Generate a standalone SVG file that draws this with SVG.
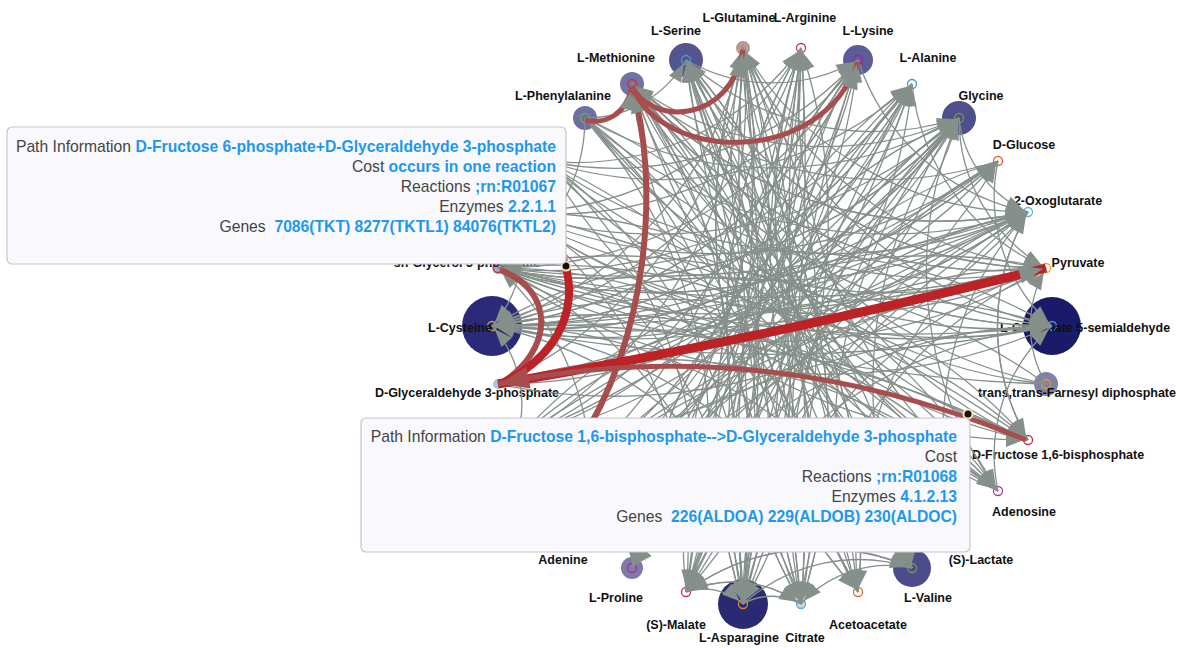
<svg xmlns="http://www.w3.org/2000/svg" width="1184" height="648" viewBox="0 0 1184 648">
<style>
.e{fill:none;stroke:#86908b;stroke-width:1.3;marker-end:url(#ag)}
.lb{font-family:"Liberation Sans",Arial,sans-serif;font-weight:bold;font-size:12.5px;fill:#111;text-anchor:middle}
.rg{fill:none;stroke-width:1.3}
.rb{fill:none;stroke:#a84d4d}
.rr{fill:none;stroke:#bd2227}
.tt{fill:#f9f9fd;stroke:#c4c4cc;stroke-width:1.2}
.tx{font-family:"Liberation Sans",Arial,sans-serif;font-size:15.7px;fill:#444;text-anchor:end}
.v{font-weight:bold;fill:#1e98ec}
.dot{fill:#111;stroke:#f3e4bd;stroke-width:2}
</style>
<defs>
<marker id="ag" markerUnits="userSpaceOnUse" markerWidth="18" markerHeight="14" refX="22" refY="7" orient="auto" overflow="visible"><path d="M0,0L18,7L0,14Z" fill="#86908b"/></marker>
<marker id="agb" markerUnits="userSpaceOnUse" markerWidth="24" markerHeight="18" refX="27" refY="9" orient="auto" overflow="visible"><path d="M0,0L24,9L0,18Z" fill="#86908b"/></marker>
<marker id="ar" markerUnits="userSpaceOnUse" markerWidth="30" markerHeight="22" refX="31" refY="11" orient="auto" overflow="visible"><path d="M0,0L30,11L0,22Z" fill="#a84d4d"/></marker>
</defs>
<rect width="1184" height="648" fill="#fff"/>

<g id="nodes">
<g id="n-arginine"><circle cx="801" cy="48" r="4.5" class="rg" stroke="#d0304a"/><text class="lb" x="805" y="22">L-Arginine</text></g>
<g id="n-lysine"><circle cx="858" cy="60" r="15" fill="#5c5c98"/><circle cx="858" cy="60" r="4.5" class="rg" stroke="#a020a0"/><text class="lb" x="868" y="35">L-Lysine</text></g>
<g id="n-alanine"><circle cx="912" cy="84" r="4.5" class="rg" stroke="#3a9ad9"/><text class="lb" x="928" y="62">L-Alanine</text></g>
<g id="n-glycine"><circle cx="959" cy="118" r="17" fill="#4f4f8c"/><circle cx="959" cy="118" r="4.5" class="rg" stroke="#6a9a4a"/><text class="lb" x="981" y="100">Glycine</text></g>
<g id="n-glucose"><circle cx="998" cy="161" r="4.5" class="rg" stroke="#e06030"/><text class="lb" x="1024" y="149">D-Glucose</text></g>
<g id="n-oxoglutarate"><circle cx="1028" cy="212" r="4.5" class="rg" stroke="#60b0e0"/><text class="lb" x="1058" y="205">2-Oxoglutarate</text></g>
<g id="n-pyruvate"><circle cx="1046" cy="268" r="4.5" class="rg" stroke="#f0a030"/><text class="lb" x="1078" y="267">Pyruvate</text></g>
<g id="n-glu5sa"><circle cx="1052" cy="326" r="29" fill="#1a1a6a"/><circle cx="1052" cy="326" r="4.5" class="rg" stroke="#40a0e0"/><text class="lb" x="1085" y="332">L-Glutamate 5-semialdehyde</text></g>
<g id="n-farnesyl"><circle cx="1046" cy="384" r="12" fill="#8080aa"/><circle cx="1046" cy="384" r="4.5" class="rg" stroke="#e0a020"/><text class="lb" x="1077" y="397">trans,trans-Farnesyl diphosphate</text></g>
<g id="n-fbp"><circle cx="1028" cy="440" r="4.5" class="rg" stroke="#c83040"/><text class="lb" x="1058" y="459">D-Fructose 1,6-bisphosphate</text></g>
<g id="n-adenosine"><circle cx="998" cy="491" r="4.5" class="rg" stroke="#a040a0"/><text class="lb" x="1024" y="516">Adenosine</text></g>
<g id="n-lactate"><circle cx="959" cy="534" r="4.5" class="rg" stroke="#a040a0"/><text class="lb" x="981" y="564">(S)-Lactate</text></g>
<g id="n-valine"><circle cx="912" cy="568" r="19" fill="#4c4c8c"/><circle cx="912" cy="568" r="4.5" class="rg" stroke="#70a040"/><text class="lb" x="928" y="602">L-Valine</text></g>
<g id="n-acetoacetate"><circle cx="858" cy="592" r="4.5" class="rg" stroke="#e06a30"/><text class="lb" x="868" y="629">Acetoacetate</text></g>
<g id="n-citrate"><circle cx="801" cy="604" r="4.5" fill="#d4d4d8" stroke="#50b0e0" stroke-width="1.3"/><text class="lb" x="805" y="642">Citrate</text></g>
<g id="n-asparagine"><circle cx="743" cy="604" r="25" fill="#2a2a72"/><circle cx="743" cy="604" r="4.5" class="rg" stroke="#e08a30"/><text class="lb" x="739" y="642">L-Asparagine</text></g>
<g id="n-malate"><circle cx="686" cy="592" r="4.5" class="rg" stroke="#d03050"/><text class="lb" x="676" y="629">(S)-Malate</text></g>
<g id="n-proline"><circle cx="632" cy="568" r="11" fill="#7f7aaa"/><circle cx="632" cy="568" r="4.5" class="rg" stroke="#a030a0"/><text class="lb" x="616" y="602">L-Proline</text></g>
<g id="n-adenine"><circle cx="585" cy="534" r="4.5" class="rg" stroke="#a030a0"/><text class="lb" x="563" y="564">Adenine</text></g>
<g id="n-gap"><circle cx="498" cy="384" r="5" fill="#9ec8e8"/><text class="lb" x="467" y="397">D-Glyceraldehyde 3-phosphate</text></g>
<g id="n-cysteine"><circle cx="492" cy="326" r="30" fill="#2a2a78"/><circle cx="492" cy="326" r="4.5" class="rg" stroke="#e0a030"/><text class="lb" x="460" y="332">L-Cysteine</text></g>
<g id="n-g3p"><circle cx="498" cy="268" r="6" fill="#b8a8c8"/><circle cx="498" cy="268" r="4.5" class="rg" stroke="#c03060"/><text class="lb" x="467" y="267">sn-Glycerol 3-phosphate</text></g>
<g id="n-phenylalanine"><circle cx="585" cy="118" r="12" fill="#6e6ea4"/><circle cx="585" cy="118" r="4.5" class="rg" stroke="#70b040"/><text class="lb" x="563" y="100">L-Phenylalanine</text></g>
<g id="n-methionine"><circle cx="632" cy="84" r="12" fill="#7272a6"/><circle cx="632" cy="84" r="4.5" class="rg" stroke="#d03030"/><text class="lb" x="616" y="62">L-Methionine</text></g>
<g id="n-serine"><circle cx="686" cy="60" r="17" fill="#545490"/><circle cx="686" cy="60" r="4.5" class="rg" stroke="#40a0e0"/><text class="lb" x="676" y="35">L-Serine</text></g>
<g id="n-glutamine"><circle cx="743" cy="48" r="7" fill="#a098b0"/><circle cx="743" cy="48" r="4.5" class="rg" stroke="#f0a030"/><text class="lb" x="739" y="22">L-Glutamine</text></g>
</g>

<g id="edges">
<path class="e" d="M858 60A453 453 0 0 1 492 326"/>
<path class="e" d="M912 84A485 485 0 0 1 492 326"/>
<path class="e" d="M959 118A512 512 0 0 1 492 326"/>
<path class="e" d="M998 161A900 900 0 0 1 492 326"/>
<path class="e" d="M1028 212A1400 1400 0 0 1 492 326"/>
<path class="e" d="M1046 268A2500 2500 0 0 1 492 326"/>
<path class="e" d="M1052 326A1400 1400 0 0 1 492 326"/>
<path class="e" d="M1046 384A557 557 0 0 0 492 326"/>
<path class="e" d="M1028 440A1100 1100 0 0 0 492 326"/>
<path class="e" d="M998 491A533 533 0 0 0 492 326"/>
<path class="e" d="M912 568A485 485 0 0 0 492 326"/>
<path class="e" d="M858 592A453 453 0 0 0 492 326"/>
<path class="e" d="M801 604A416 416 0 0 0 492 326"/>
<path class="e" d="M959 534A329 329 0 0 1 1028 212"/>
<path class="e" d="M858 592A416 416 0 0 1 1028 212"/>
<path class="e" d="M743 604A485 485 0 0 1 1028 212"/>
<path class="e" d="M686 592A900 900 0 0 1 1028 212"/>
<path class="e" d="M632 568A533 533 0 0 1 1028 212"/>
<path class="e" d="M585 534A1400 1400 0 0 1 1028 212"/>
<path class="e" d="M546 491A2500 2500 0 0 1 1028 212"/>
<path class="e" d="M516 440A1600 1600 0 0 1 1028 212"/>
<path class="e" d="M498 384A557 557 0 0 0 1028 212"/>
<path class="e" d="M492 326A700 700 0 0 0 1028 212"/>
<path class="e" d="M498 268A1200 1200 0 0 0 1028 212"/>
<path class="e" d="M516 212A512 512 0 0 0 1028 212"/>
<path class="e" d="M546 161A485 485 0 0 0 1028 212"/>
<path class="e" d="M585 118A453 453 0 0 0 1028 212"/>
<path class="e" d="M632 84A416 416 0 0 0 1028 212"/>
<path class="e" d="M801 604A416 416 0 0 1 1046 268"/>
<path class="e" d="M743 604A453 453 0 0 1 1046 268"/>
<path class="e" d="M632 568A512 512 0 0 1 1046 268"/>
<path class="e" d="M585 534A533 533 0 0 1 1046 268"/>
<path class="e" d="M546 491A1300 1300 0 0 1 1046 268"/>
<path class="e" d="M516 440A557 557 0 0 1 1046 268"/>
<path class="e" d="M492 326A1500 1500 0 0 0 1046 268"/>
<path class="e" d="M498 268A548 548 0 0 0 1046 268"/>
<path class="e" d="M516 212A533 533 0 0 0 1046 268"/>
<path class="e" d="M546 161A512 512 0 0 0 1046 268"/>
<path class="e" d="M585 118A485 485 0 0 0 1046 268"/>
<path class="e" d="M632 84A453 453 0 0 0 1046 268"/>
<path class="e" d="M686 60A416 416 0 0 0 1046 268"/>
<path class="e" d="M686 592A453 453 0 0 1 1052 326"/>
<path class="e" d="M632 568A485 485 0 0 1 1052 326"/>
<path class="e" d="M546 491A1000 1000 0 0 1 1052 326"/>
<path class="e" d="M516 440A548 548 0 0 1 1052 326"/>
<path class="e" d="M492 326A560 560 0 0 1 1052 326"/>
<path class="e" d="M498 268A1300 1300 0 0 0 1052 326"/>
<path class="e" d="M516 212A700 700 0 0 0 1052 326"/>
<path class="e" d="M546 161A533 533 0 0 0 1052 326"/>
<path class="e" d="M585 118A512 512 0 0 0 1052 326"/>
<path class="e" d="M632 84A485 485 0 0 0 1052 326"/>
<path class="e" d="M912 568A453 453 0 0 1 959 118"/>
<path class="e" d="M858 592A485 485 0 0 1 959 118"/>
<path class="e" d="M801 604A512 512 0 0 1 959 118"/>
<path class="e" d="M743 604A533 533 0 0 1 959 118"/>
<path class="e" d="M686 592A1400 1400 0 0 1 959 118"/>
<path class="e" d="M632 568A557 557 0 0 1 959 118"/>
<path class="e" d="M585 534A1500 1500 0 0 1 959 118"/>
<path class="e" d="M546 491A557 557 0 0 0 959 118"/>
<path class="e" d="M516 440A1200 1200 0 0 0 959 118"/>
<path class="e" d="M498 384A533 533 0 0 0 959 118"/>
<path class="e" d="M492 326A512 512 0 0 0 959 118"/>
<path class="e" d="M498 268A485 485 0 0 0 959 118"/>
<path class="e" d="M516 212A453 453 0 0 0 959 118"/>
<path class="e" d="M585 118A375 375 0 0 0 959 118"/>
<path class="e" d="M632 84A329 329 0 0 0 959 118"/>
<path class="e" d="M686 60A280 280 0 0 0 959 118"/>
<path class="e" d="M1028 212A329 329 0 0 1 743 48"/>
<path class="e" d="M1046 268A375 375 0 0 1 743 48"/>
<path class="e" d="M1052 326A416 416 0 0 1 743 48"/>
<path class="e" d="M1028 440A485 485 0 0 1 743 48"/>
<path class="e" d="M998 491A512 512 0 0 1 743 48"/>
<path class="e" d="M959 534A533 533 0 0 1 743 48"/>
<path class="e" d="M912 568A1300 1300 0 0 1 743 48"/>
<path class="e" d="M858 592A557 557 0 0 1 743 48"/>
<path class="e" d="M801 604A1600 1600 0 0 1 743 48"/>
<path class="e" d="M743 604A2500 2500 0 0 0 743 48"/>
<path class="e" d="M686 592A1200 1200 0 0 0 743 48"/>
<path class="e" d="M632 568A533 533 0 0 0 743 48"/>
<path class="e" d="M585 534A512 512 0 0 0 743 48"/>
<path class="e" d="M546 491A485 485 0 0 0 743 48"/>
<path class="e" d="M516 440A453 453 0 0 0 743 48"/>
<path class="e" d="M498 384A416 416 0 0 0 743 48"/>
<path class="e" d="M492 326A375 375 0 0 0 743 48"/>
<path class="e" d="M998 491A485 485 0 0 1 801 48"/>
<path class="e" d="M912 568A533 533 0 0 1 801 48"/>
<path class="e" d="M858 592A1100 1100 0 0 1 801 48"/>
<path class="e" d="M801 604A557 557 0 0 1 801 48"/>
<path class="e" d="M743 604A1500 1500 0 0 1 801 48"/>
<path class="e" d="M686 592A557 557 0 0 0 801 48"/>
<path class="e" d="M632 568A1300 1300 0 0 0 801 48"/>
<path class="e" d="M585 534A533 533 0 0 0 801 48"/>
<path class="e" d="M546 491A512 512 0 0 0 801 48"/>
<path class="e" d="M516 440A485 485 0 0 0 801 48"/>
<path class="e" d="M492 326A416 416 0 0 0 801 48"/>
<path class="e" d="M516 212A329 329 0 0 0 801 48"/>
<path class="e" d="M546 161A280 280 0 0 0 801 48"/>
<path class="e" d="M801 604A1200 1200 0 0 1 858 60"/>
<path class="e" d="M743 604A557 557 0 0 1 858 60"/>
<path class="e" d="M686 592A1500 1500 0 0 1 858 60"/>
<path class="e" d="M632 568A2500 2500 0 0 0 858 60"/>
<path class="e" d="M585 534A700 700 0 0 0 858 60"/>
<path class="e" d="M516 440A512 512 0 0 0 858 60"/>
<path class="e" d="M492 326A453 453 0 0 0 858 60"/>
<path class="e" d="M498 268A416 416 0 0 0 858 60"/>
<path class="e" d="M516 212A375 375 0 0 0 858 60"/>
<path class="e" d="M546 161A329 329 0 0 0 858 60"/>
<path class="e" d="M1046 268A416 416 0 0 1 686 60"/>
<path class="e" d="M1052 326A453 453 0 0 1 686 60"/>
<path class="e" d="M1046 384A485 485 0 0 1 686 60"/>
<path class="e" d="M1028 440A512 512 0 0 1 686 60"/>
<path class="e" d="M998 491A533 533 0 0 1 686 60"/>
<path class="e" d="M959 534A1300 1300 0 0 1 686 60"/>
<path class="e" d="M912 568A2500 2500 0 0 1 686 60"/>
<path class="e" d="M858 592A1600 1600 0 0 1 686 60"/>
<path class="e" d="M801 604A557 557 0 0 0 686 60"/>
<path class="e" d="M743 604A548 548 0 0 0 686 60"/>
<path class="e" d="M998 161A375 375 0 0 1 632 84"/>
<path class="e" d="M1028 212A416 416 0 0 1 632 84"/>
<path class="e" d="M1046 268A453 453 0 0 1 632 84"/>
<path class="e" d="M1052 326A485 485 0 0 1 632 84"/>
<path class="e" d="M1046 384A512 512 0 0 1 632 84"/>
<path class="e" d="M1028 440A533 533 0 0 1 632 84"/>
<path class="e" d="M998 491A1300 1300 0 0 1 632 84"/>
<path class="e" d="M959 534A557 557 0 0 1 632 84"/>
<path class="e" d="M912 568A1500 1500 0 0 1 632 84"/>
<path class="e" d="M858 592A557 557 0 0 0 632 84"/>
<path class="e" d="M801 604A548 548 0 0 0 632 84"/>
<path class="e" d="M743 604A548 548 0 0 1 912 84"/>
<path class="e" d="M686 592A557 557 0 0 1 912 84"/>
<path class="e" d="M632 568A1400 1400 0 0 1 912 84"/>
<path class="e" d="M585 534A557 557 0 0 0 912 84"/>
<path class="e" d="M546 491A1200 1200 0 0 0 912 84"/>
<path class="e" d="M516 440A533 533 0 0 0 912 84"/>
<path class="e" d="M498 384A512 512 0 0 0 912 84"/>
<path class="e" d="M492 326A485 485 0 0 0 912 84"/>
<path class="e" d="M498 268A453 453 0 0 0 912 84"/>
<path class="e" d="M546 161A375 375 0 0 0 912 84"/>
<path class="e" d="M959 118A485 485 0 0 1 498 268"/>
<path class="e" d="M998 161A512 512 0 0 1 498 268"/>
<path class="e" d="M1028 212A533 533 0 0 1 498 268"/>
<path class="e" d="M1046 268A1300 1300 0 0 1 498 268"/>
<path class="e" d="M1052 326A557 557 0 0 1 498 268"/>
<path class="e" d="M1046 384A1600 1600 0 0 1 498 268"/>
<path class="e" d="M1028 440A2500 2500 0 0 0 498 268"/>
<path class="e" d="M998 491A548 548 0 0 0 498 268"/>
<path class="e" d="M959 534A533 533 0 0 0 498 268"/>
<path class="e" d="M498 268A416 416 0 0 1 743 604"/>
<path class="e" d="M516 212A453 453 0 0 1 743 604"/>
<path class="e" d="M546 161A485 485 0 0 1 743 604"/>
<path class="e" d="M585 118A512 512 0 0 1 743 604"/>
<path class="e" d="M632 84A533 533 0 0 1 743 604"/>
<path class="e" d="M686 60A1400 1400 0 0 1 743 604"/>
<path class="e" d="M743 48A557 557 0 0 1 743 604"/>
<path class="e" d="M801 48A1600 1600 0 0 1 743 604"/>
<path class="e" d="M858 60A557 557 0 0 0 743 604"/>
<path class="e" d="M912 84A1300 1300 0 0 0 743 604"/>
<path class="e" d="M959 118A533 533 0 0 0 743 604"/>
<path class="e" d="M998 161A512 512 0 0 0 743 604"/>
<path class="e" d="M686 592A58 58 0 0 1 743 604"/>
<path class="e" d="M743 604A58 58 0 0 1 801 604"/>
<path class="e" d="M686 592A116 116 0 0 1 801 604"/>
<path class="e" d="M585 118A533 533 0 0 1 801 604"/>
<path class="e" d="M632 84A1200 1200 0 0 1 801 604"/>
<path class="e" d="M686 60A557 557 0 0 1 801 604"/>
<path class="e" d="M743 48A1500 1500 0 0 1 801 604"/>
<path class="e" d="M801 48A557 557 0 0 0 801 604"/>
<path class="e" d="M858 60A548 548 0 0 0 801 604"/>
<path class="e" d="M912 84A533 533 0 0 0 801 604"/>
<path class="e" d="M912 568A116 116 0 0 0 801 604"/>
<path class="e" d="M516 212A416 416 0 0 1 686 592"/>
<path class="e" d="M546 161A453 453 0 0 1 686 592"/>
<path class="e" d="M585 118A485 485 0 0 1 686 592"/>
<path class="e" d="M632 84A512 512 0 0 1 686 592"/>
<path class="e" d="M686 60A533 533 0 0 1 686 592"/>
<path class="e" d="M743 48A548 548 0 0 1 686 592"/>
<path class="e" d="M801 48A1400 1400 0 0 1 686 592"/>
<path class="e" d="M912 568A228 228 0 0 0 686 592"/>
<path class="e" d="M801 604A116 116 0 0 0 686 592"/>
<path class="e" d="M632 84A557 557 0 0 1 858 592"/>
<path class="e" d="M686 60A1500 1500 0 0 1 858 592"/>
<path class="e" d="M743 48A557 557 0 0 0 858 592"/>
<path class="e" d="M801 48A700 700 0 0 0 858 592"/>
<path class="e" d="M858 60A533 533 0 0 0 858 592"/>
<path class="e" d="M585 534A1400 1400 0 0 1 998 161"/>
<path class="e" d="M516 440A557 557 0 0 0 998 161"/>
<path class="e" d="M498 384A1200 1200 0 0 0 998 161"/>
<path class="e" d="M492 326A533 533 0 0 0 998 161"/>
<path class="e" d="M498 268A512 512 0 0 0 998 161"/>
<path class="e" d="M516 212A485 485 0 0 0 998 161"/>
<path class="e" d="M498 384A512 512 0 0 1 998 491"/>
<path class="e" d="M492 326A533 533 0 0 1 998 491"/>
<path class="e" d="M498 268A1300 1300 0 0 1 998 491"/>
<path class="e" d="M516 212A557 557 0 0 1 998 491"/>
<path class="e" d="M585 118A2500 2500 0 0 0 998 491"/>
<path class="e" d="M959 118A375 375 0 0 0 998 491"/>
<path class="e" d="M492 326A548 548 0 0 1 1028 440"/>
<path class="e" d="M498 268A557 557 0 0 1 1028 440"/>
<path class="e" d="M516 212A1500 1500 0 0 1 1028 440"/>
<path class="e" d="M546 161A557 557 0 0 0 1028 440"/>
<path class="e" d="M1028 212A228 228 0 0 0 1028 440"/>
<path class="e" d="M743 604A173 173 0 0 1 912 568"/>
<path class="e" d="M686 592A228 228 0 0 1 912 568"/>
<path class="e" d="M546 161A700 700 0 0 1 912 568"/>
<path class="e" d="M585 118A557 557 0 0 1 912 568"/>
<path class="e" d="M632 84A1400 1400 0 0 1 912 568"/>
<path class="e" d="M743 48A548 548 0 0 0 912 568"/>
<path class="e" d="M912 84A1500 1500 0 0 1 632 568"/>
<path class="e" d="M959 118A557 557 0 0 0 632 568"/>
<path class="e" d="M998 161A548 548 0 0 0 632 568"/>
<path class="e" d="M686 60A173 173 0 0 0 858 60"/>
<path class="e" d="M585 118A116 116 0 0 0 686 60"/>
<path class="e" d="M959 118A116 116 0 0 0 1028 212"/>
<path class="e" d="M858 60A228 228 0 0 0 1028 212"/>
<path class="e" d="M959 118A173 173 0 0 0 1046 268"/>
<path class="e" d="M912 84A228 228 0 0 0 1046 268"/>
<path class="e" d="M998 161A173 173 0 0 0 1052 326"/>
<path class="e" d="M1046 384A116 116 0 0 1 1046 268"/>
<path class="e" d="M998 491A173 173 0 0 1 1052 326"/>
<path class="e" d="M1028 440A228 228 0 0 1 1028 212"/>
<path class="e" d="M516 440A116 116 0 0 0 492 326"/>
<path class="e" d="M516 212A116 116 0 0 1 492 326"/>
<path class="e" d="M585 534A280 280 0 0 0 498 268"/>
<path class="e" d="M585 118A173 173 0 0 1 498 268"/>
</g>

<g id="path-highlight">
<path class="rb" stroke-width="6" d="M575 450C650 340 660 180 632 86" marker-end="url(#agb)"/>
<path class="rb" stroke-width="5" d="M585 120C605 125 625 115 632 88" marker-end="url(#ag)"/>
<path class="rb" stroke-width="5" d="M632 86C650 125 730 125 743 50" marker-end="url(#agb)"/>
<path class="rb" stroke-width="5" d="M632 86C660 160 820 170 858 62" marker-end="url(#agb)"/>
<path class="rb" stroke-width="6" d="M500 270C555 290 555 350 500 384"/>
<path class="rr" stroke-width="8" d="M540 230C575 250 595 340 500 384"/>
<path class="rr" stroke-width="9" d="M498 384Q760 340 1046 268" marker-end="url(#agb)"/>
<path class="rb" stroke-width="5" d="M1026 440Q760 330 498 384" marker-end="url(#ar)"/>
<circle class="dot" cx="566" cy="266" r="4.5"/>
<circle class="dot" cx="968" cy="414" r="4.5"/>
</g>

<g id="tooltip-1">
<rect class="tt" x="7" y="127" width="559" height="137" rx="5"/>
<text class="tx" x="556" y="152">Path Information <tspan class="v">D-Fructose 6-phosphate+D-Glyceraldehyde 3-phosphate</tspan></text>
<text class="tx" x="556" y="172">Cost <tspan class="v">occurs in one reaction</tspan></text>
<text class="tx" x="556" y="192">Reactions <tspan class="v">;rn:R01067</tspan></text>
<text class="tx" x="556" y="212">Enzymes <tspan class="v">2.2.1.1</tspan></text>
<text class="tx" x="556" y="232">Genes&#160; <tspan class="v">7086(TKT) 8277(TKTL1) 84076(TKTL2)</tspan></text>
</g>
<g id="tooltip-2">
<rect class="tt" x="361" y="418" width="609" height="134" rx="5"/>
<text class="tx" x="957" y="442">Path Information <tspan class="v">D-Fructose 1,6-bisphosphate--&gt;D-Glyceraldehyde 3-phosphate</tspan></text>
<text class="tx" x="957" y="462">Cost</text>
<text class="tx" x="957" y="482">Reactions <tspan class="v">;rn:R01068</tspan></text>
<text class="tx" x="957" y="502">Enzymes <tspan class="v">4.1.2.13</tspan></text>
<text class="tx" x="957" y="522">Genes&#160; <tspan class="v">226(ALDOA) 229(ALDOB) 230(ALDOC)</tspan></text>
</g>
</svg>
